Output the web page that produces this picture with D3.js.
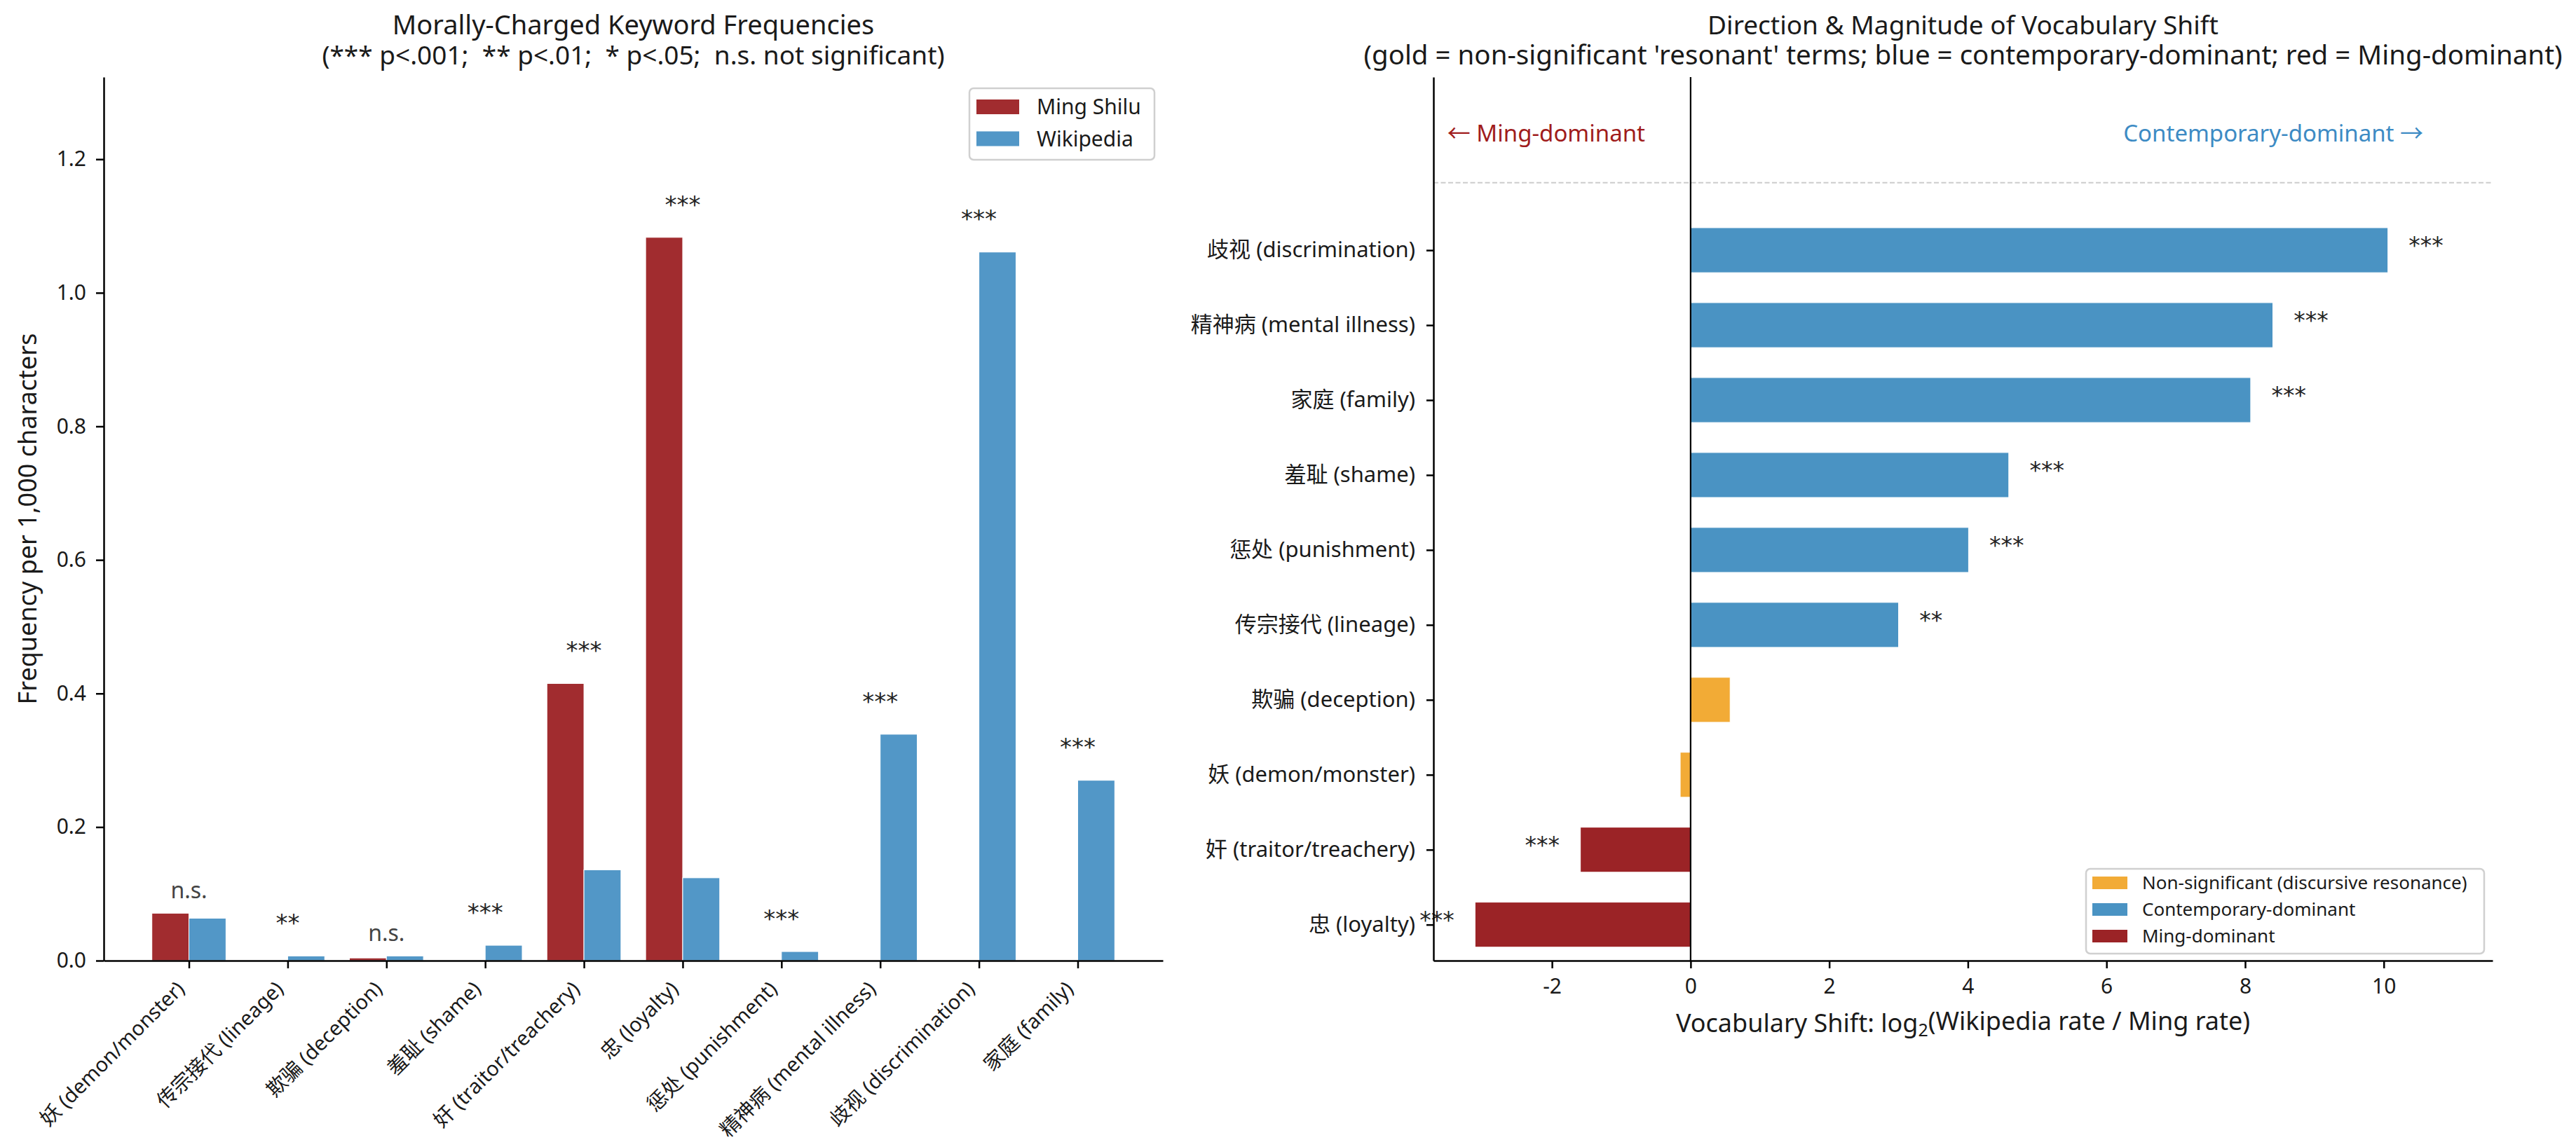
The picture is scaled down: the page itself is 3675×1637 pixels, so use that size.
<!DOCTYPE html>
<html>
<head>
<meta charset="utf-8">
<script src="https://cdn.jsdelivr.net/npm/d3@7"></script>
<style>
body { margin: 0; background: #fff; }
text { font-family: "Noto Sans", "Noto Sans CJK SC", sans-serif; fill: #1a1a1a; }
</style>
</head>
<body>
<svg id="chart" width="3675" height="1637"></svg>
<script>
"use strict";

// keywords, in the order of the left chart
const terms = ["妖 (demon/monster)", "传宗接代 (lineage)", "欺骗 (deception)", "羞耻 (shame)",
  "奸 (traitor/treachery)", "忠 (loyalty)", "惩处 (punishment)", "精神病 (mental illness)",
  "歧视 (discrimination)", "家庭 (family)"];
const mingFreq = [0.071, 0, 0.004, 0, 0.415, 1.083, 0, 0, 0, 0];
const wikiFreq = [0.0635, 0.007, 0.007, 0.023, 0.136, 0.124, 0.0136, 0.339, 1.061, 0.270];
const freqSig = ["n.s.", "**", "n.s.", "***", "***", "***", "***", "***", "***", "***"];
const freqTicks = [0, 0.2, 0.4, 0.6, 0.8, 1.0, 1.2];

// right chart, bottom row first
const shiftTerms = ["忠 (loyalty)", "奸 (traitor/treachery)", "妖 (demon/monster)", "欺骗 (deception)",
  "传宗接代 (lineage)", "惩处 (punishment)", "羞耻 (shame)", "家庭 (family)",
  "精神病 (mental illness)", "歧视 (discrimination)"];
const shiftValues = [-3.11, -1.59, -0.15, 0.57, 3.00, 4.01, 4.59, 8.08, 8.40, 10.06];
const shiftSig = ["***", "***", "", "", "**", "***", "***", "***", "***", "***"];
const shiftGroup = ["ming", "ming", "ns", "ns", "cont", "cont", "cont", "cont", "cont", "cont"];
const shiftTicks = [-2, 0, 2, 4, 6, 8, 10];

const leftColors = { ming: "#a12c2f", wiki: "#5297c7" };
const groupColors = { ns: "#f2ab36", cont: "#4a93c3", ming: "#9b2326" };
const groupNames = [["ns", "Non-significant (discursive resonance)"], ["cont", "Contemporary-dominant"], ["ming", "Ming-dominant"]];

const svg = d3.select("#chart");
const plotTop = 110, plotBottom = 1371;

function styleAxis(g, fontSize) {
  g.attr("font-family", null).attr("font-size", null);
  g.select(".domain").attr("stroke", "#000").attr("stroke-width", 2.5);
  g.selectAll(".tick line").attr("stroke", "#000").attr("stroke-width", 2.5);
  g.selectAll(".tick text").style("fill", "#1a1a1a").style("font-size", fontSize + "px");
}

// two-line title as one text
function title(g, cx, lines, sizes) {
  const t = g.append("text").attr("x", cx).attr("y", 49).attr("text-anchor", "middle")
    .style("white-space", "pre");
  t.append("tspan").attr("x", cx).style("font-size", sizes[0] + "px").text(lines[0]);
  t.append("tspan").attr("x", cx).attr("dy", 43).style("font-size", sizes[1] + "px").text(lines[1]);
}

// ---------- left: frequencies ----------
const bw = 0.375;
const xL = d3.scaleLinear().domain([-0.8625, 9.8625]).range([148, 1659]);
const yL = d3.scaleLinear().domain([0, 1.323]).range([plotBottom, plotTop]);

const left = svg.append("g");
const idx = d3.range(terms.length);

left.append("g").selectAll("rect").data(idx).join("rect")
  .attr("x", i => xL(i - bw)).attr("width", i => xL(i) - xL(i - bw))
  .attr("y", i => yL(mingFreq[i])).attr("height", i => yL(0) - yL(mingFreq[i]))
  .attr("fill", leftColors.ming).attr("stroke", "#fff").attr("stroke-width", 1);
left.append("g").selectAll("rect").data(idx).join("rect")
  .attr("x", i => xL(i)).attr("width", i => xL(i + bw) - xL(i))
  .attr("y", i => yL(wikiFreq[i])).attr("height", i => yL(0) - yL(wikiFreq[i]))
  .attr("fill", leftColors.wiki).attr("stroke", "#fff").attr("stroke-width", 1);

left.append("g").selectAll("text").data(idx).join("text")
  .attr("x", i => xL(i))
  .attr("y", i => yL(Math.max(mingFreq[i], wikiFreq[i]) + 0.022))
  .attr("dy", i => freqSig[i] === "n.s." ? "0em" : "-0.42em")
  .attr("text-anchor", "middle")
  .style("font-family", i => freqSig[i] === "n.s." ? null : "'DejaVu Sans', sans-serif")
  .style("font-size", i => freqSig[i] === "n.s." ? "32px" : "34px")
  .style("fill", i => freqSig[i] === "n.s." ? "#444" : "#222")
  .text(i => freqSig[i]);

const axL = left.append("g").attr("transform", `translate(148,0)`)
  .call(d3.axisLeft(yL).tickValues(freqTicks).tickFormat(d3.format(".1f")).tickSize(11).tickPadding(14).tickSizeOuter(0));
styleAxis(axL, 30);

const axB = left.append("g").attr("transform", `translate(0,${plotBottom})`)
  .call(d3.axisBottom(xL).tickValues(idx).tickFormat(i => terms[i]).tickSize(11).tickSizeOuter(0));
styleAxis(axB, 29);
axB.selectAll(".tick text")
  .attr("x", 0).attr("y", 0).attr("dy", 0)
  .attr("text-anchor", "end")
  .attr("transform", "translate(-5,42) rotate(-45)");

left.append("text")
  .attr("transform", `translate(52,${(plotTop + plotBottom) / 2}) rotate(-90)`)
  .attr("text-anchor", "middle").style("font-size", "36px")
  .text("Frequency per 1,000 characters");

title(left, (148 + 1659) / 2,
  ["Morally-Charged Keyword Frequencies", "(*** p<.001;  ** p<.01;  * p<.05;  n.s. not significant)"], [38, 37]);

// legend
const lg = left.append("g");
lg.append("rect").attr("x", 1383).attr("y", 126).attr("width", 264).attr("height", 102)
  .attr("rx", 6).attr("fill", "#fff").attr("fill-opacity", 0.8)
  .attr("stroke", "#d0d0d0").attr("stroke-width", 2.5);
[["Ming Shilu", leftColors.ming], ["Wikipedia", leftColors.wiki]].forEach((d, k) => {
  const cy = 152.5 + k * 45.5;
  lg.append("rect").attr("x", 1393).attr("y", cy - 10.5).attr("width", 61).attr("height", 21).attr("fill", d[1]);
  lg.append("text").attr("x", 1479).attr("y", cy).attr("dy", "0.36em").style("font-size", "30px").text(d[0]);
});

// ---------- right: shift ----------
const xR = d3.scaleLinear().domain([-3.71, 11.57]).range([2045, 3556]);
const yR = d3.scaleLinear().domain([-0.48, 11.31]).range([plotBottom, plotTop]);
const right = svg.append("g");

right.append("line")
  .attr("x1", xR.range()[0]).attr("x2", xR.range()[1])
  .attr("y1", yR(9.9)).attr("y2", yR(9.9))
  .attr("stroke", "#cccccc").attr("stroke-width", 2).attr("stroke-dasharray", "7,3.5");

right.append("g").selectAll("rect").data(idx).join("rect")
  .attr("x", i => xR(Math.min(0, shiftValues[i])))
  .attr("width", i => Math.abs(xR(shiftValues[i]) - xR(0)))
  .attr("y", i => yR(i + 0.3)).attr("height", i => yR(i - 0.3) - yR(i + 0.3))
  .attr("fill", i => groupColors[shiftGroup[i]]).attr("stroke", "#fff").attr("stroke-width", 1);

right.append("line")
  .attr("x1", xR(0)).attr("x2", xR(0)).attr("y1", plotTop).attr("y2", plotBottom)
  .attr("stroke", "#000").attr("stroke-width", 2.2);

right.append("g").selectAll("text").data(idx.filter(i => shiftSig[i])).join("text")
  .attr("x", i => xR(shiftValues[i] + (shiftValues[i] >= 0 ? 0.3 : -0.3)))
  .attr("y", i => yR(i)).attr("dy", "0.15em")
  .attr("text-anchor", i => shiftValues[i] >= 0 ? "start" : "end")
  .style("font-family", "'DejaVu Sans', sans-serif").style("font-size", "33px")
  .style("fill", "#222")
  .text(i => shiftSig[i]);

const axR = right.append("g").attr("transform", `translate(2045,0)`)
  .call(d3.axisLeft(yR).tickValues(idx).tickFormat(i => shiftTerms[i]).tickSize(10).tickPadding(16).tickSizeOuter(0));
styleAxis(axR, 31);

const axRB = right.append("g").attr("transform", `translate(0,${plotBottom})`)
  .call(d3.axisBottom(xR).tickValues(shiftTicks).tickFormat(d => String(d)).tickSize(11).tickPadding(15).tickSizeOuter(0));
styleAxis(axRB, 30);

const xlab = right.append("text").attr("x", (2045 + 3556) / 2).attr("y", 1473)
  .attr("text-anchor", "middle").style("font-size", "36px");
xlab.append("tspan").text("Vocabulary Shift: log");
xlab.append("tspan").attr("dy", "0.25em").style("font-size", "25px").text("2");
xlab.append("tspan").attr("dy", "-0.25em").text("(Wikipedia rate / Ming rate)");

right.append("text").attr("x", xR(-3.51)).attr("y", yR(10.56)).attr("dy", "0.35em")
  .style("font-size", "33px").style("fill", "#a01c1c").text("← Ming-dominant");
right.append("text").attr("x", xR(10.57)).attr("y", yR(10.56)).attr("dy", "0.35em")
  .attr("text-anchor", "end").style("font-size", "33px").style("fill", "#3d8bc4").text("Contemporary-dominant →");

title(right, (2045 + 3556) / 2,
  ["Direction & Magnitude of Vocabulary Shift",
   "(gold = non-significant 'resonant' terms; blue = contemporary-dominant; red = Ming-dominant)"], [37, 38.5]);

const rg = right.append("g");
rg.append("rect").attr("x", 2976).attr("y", 1240).attr("width", 568).attr("height", 121)
  .attr("rx", 6).attr("fill", "#fff").attr("fill-opacity", 0.8)
  .attr("stroke", "#d0d0d0").attr("stroke-width", 2.5);
groupNames.forEach((d, k) => {
  const cy = 1260 + k * 38;
  rg.append("rect").attr("x", 2985).attr("y", cy - 9).attr("width", 50).attr("height", 18).attr("fill", groupColors[d[0]]);
  rg.append("text").attr("x", 3056).attr("y", cy).attr("dy", "0.36em").style("font-size", "26px").text(d[1]);
});
</script>
</body>
</html>
